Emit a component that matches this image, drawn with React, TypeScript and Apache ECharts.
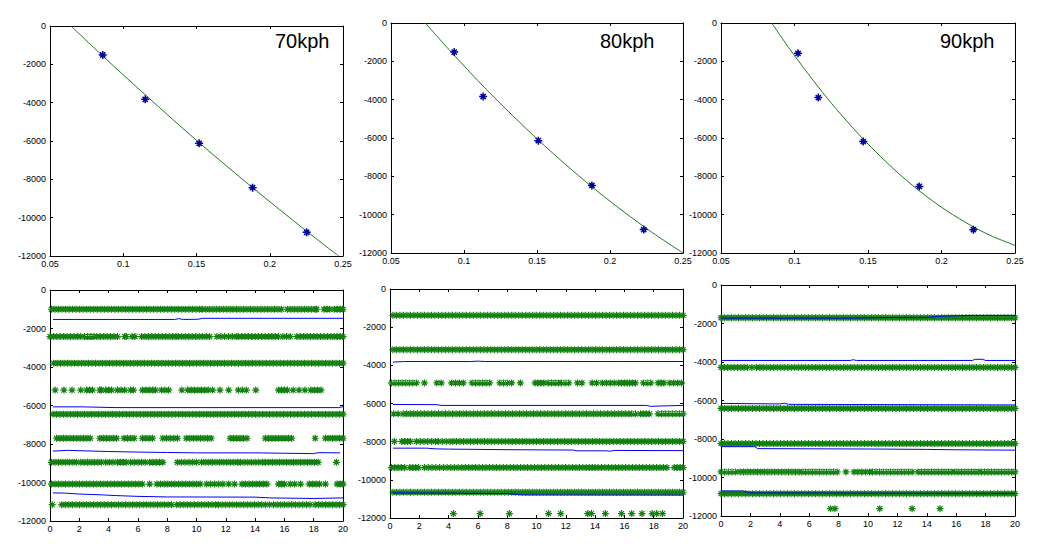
import React, { useEffect, useRef } from 'react';
import * as echarts from 'echarts';

// ---------- Top row: measured points (blue stars) and fitted curves (green) ----------
const titles = ['70kph', '80kph', '90kph'];
const xTicksTop = { min: 0.05, max: 0.25, interval: 0.05 };
const xTicksBottom = { min: 0, max: 20, interval: 2 };
const yTicks = { min: -12000, max: 0, interval: 2000 };

const p1StarX = [0.086, 0.115, 0.1518, 0.1883, 0.2252];
const p1StarY = [-1513, -3826, -6122, -8435, -10765];
const p1FitX = [0.0644, 0.086, 0.1152, 0.1518, 0.1883, 0.2252, 0.247];
const p1FitY = [0, -1565, -3601, -6087, -8435, -10708, -12000];

const p2StarX = [0.0933, 0.1131, 0.1509, 0.1876, 0.2231];
const p2StarY = [-1518, -3837, -6140, -8477, -10780];
const p2FitX = [0.0735, 0.0894, 0.1156, 0.1509, 0.1876, 0.2238, 0.25];
const p2FitY = [0, -1361, -3489, -6105, -8547, -10657, -12000];

const p3StarX = [0.1024, 0.1162, 0.1468, 0.1849, 0.2217];
const p3StarY = [-1580, -3890, -6183, -8527, -10785];
const p3FitX = [0.0845, 0.0942, 0.1024, 0.1162, 0.1282, 0.1468, 0.1668, 0.1849, 0.2031, 0.2217, 0.2348, 0.25];
const p3FitY = [0, -1082, -1950, -3341, -4467, -6061, -7568, -8758, -9774, -10638, -11138, -11601];

// ---------- Bottom row: green marker rows (runs of markers [from, to]) and blue traces ----------
const p4GreenY = [-1000, -2420, -3800, -5200, -6450, -7700, -8950, -10080, -11150];
const p4GreenRuns = [
  [[0.1, 10.2], [10.4, 12.3], [12.5, 15.8], [16.2, 18.1], [18.2, 18.2], [18.7, 19.1], [19.4, 20]],
  [[0, 2.1], [2.35, 3.0], [3.2, 4.6], [5.1, 5.2], [5.6, 5.8], [6.25, 8.6], [8.75, 10.9], [11.4, 12.7], [12.85, 15.6], [15.9, 16.4], [16.85, 19.4], [19.6, 20]],
  [[0.25, 20]],
  [[0.35, 0.35], [0.95, 0.95], [1.5, 1.5], [2.1, 2.1], [2.5, 2.9], [3.4, 3.5], [3.8, 4.2], [4.6, 5.1], [5.5, 5.7], [6.3, 7.0], [7.2, 7.2], [7.6, 8.1], [9.0, 9.0], [9.4, 10.8], [11.1, 11.1], [11.6, 11.6], [12.2, 12.2], [12.85, 13.4], [14.05, 14.05], [15.6, 16.2], [16.6, 16.6], [17.0, 17.0], [17.4, 17.4], [17.8, 18.5]],
  [[0.2, 20]],
  [[0.45, 2.75], [3.4, 4.55], [5.05, 5.75], [6.3, 7.0], [7.7, 8.7], [9.3, 11.0], [12.3, 13.2], [13.45, 13.45], [14.7, 16.5], [18.1, 18.1], [18.8, 20]],
  [[0.1, 1.8], [2.1, 3.5], [3.8, 4.3], [4.6, 5.2], [5.5, 6.5], [6.8, 7.7], [8.7, 10.0], [10.35, 12.8], [13.0, 14.5], [14.7, 18.3], [19.55, 19.55]],
  [[0.1, 6.3], [6.8, 6.8], [7.3, 10.25], [10.7, 11.5], [11.8, 11.8], [12.2, 12.2], [12.6, 12.6], [13.1, 14.8], [15.6, 16.0], [16.4, 16.7], [17.1, 17.1], [17.7, 18.4], [18.8, 18.8], [19.6, 20]],
  [[0.15, 0.15], [0.8, 8.3], [8.65, 11.3], [11.5, 14.45], [14.7, 15.25], [15.5, 17.75], [18.1, 20]],
];
const p4Blue1 = [[0.2, -1530], [8.5, -1530], [8.8, -1490], [9.1, -1530], [10.1, -1520], [10.4, -1470], [20, -1470]];
const p4Blue2 = [[0.2, -6070], [2.2, -6070], [4.5, -6110], [19.7, -6110], [20, -6060]];
const p4Blue3 = [[0.2, -8370], [1.2, -8330], [3, -8370], [4, -8390], [6, -8420], [8, -8440], [10, -8460], [14, -8460], [16, -8480], [18, -8500], [18.3, -8450], [19.8, -8460]];
const p4Blue4 = [[0.2, -10540], [1, -10550], [2, -10600], [3.5, -10640], [4.5, -10680], [6, -10720], [8, -10750], [14, -10760], [15, -10800], [18, -10830], [20, -10800]];

const p5GreenY = [-1380, -3180, -4920, -6540, -7985, -9360, -10650, -11770];
const p5GreenRuns = [
  [[0.2, 20]],
  [[0.2, 20]],
  [[0.1, 1.8], [2.35, 2.35], [3.2, 3.5], [4.2, 5.0], [5.6, 6.8], [7.5, 8.0], [8.3, 8.3], [8.9, 8.9], [9.9, 10.5], [10.8, 11.5], [11.7, 12.2], [12.8, 13.1], [13.8, 14.1], [14.5, 15.3], [15.6, 16.2], [16.35, 16.75], [17.3, 17.8], [18.3, 18.7], [19.1, 19.9]],
  [[0.25, 0.55], [0.9, 16.3], [16.5, 16.75], [17.1, 17.7], [18.3, 20]],
  [[0.3, 0.3], [0.8, 1.4], [1.8, 3.1], [3.3, 4.1], [4.3, 20]],
  [[0.1, 1.0], [1.35, 1.95], [2.35, 3.65], [3.9, 4.65], [4.9, 13.4], [13.6, 14.0], [14.2, 18.9], [19.4, 20]],
  [[0.2, 20]],
  [[4.33, 4.33], [6.15, 6.15], [8.15, 8.15], [10.82, 10.82], [11.65, 11.65], [13.5, 13.5], [13.75, 13.75], [14.7, 14.7], [15.8, 15.8], [16.5, 16.5], [17.2, 17.2], [17.9, 17.9], [18.2, 18.2], [18.6, 18.6]],
];
const p5Blue1 = [[0.2, -3830], [1, -3800], [5.5, -3800], [6, -3780], [6.5, -3800], [20, -3800]];
const p5Blue2 = [[0.2, -6050], [3.2, -6060], [3.5, -6100], [17.5, -6100], [17.8, -6150], [18.5, -6130], [20, -6100]];
const p5Blue3 = [[0.2, -8340], [2.5, -8340], [3.2, -8380], [4, -8390], [8, -8420], [12.5, -8440], [12.7, -8480], [14.8, -8480], [15, -8500], [15.3, -8460], [20, -8470]];
const p5Blue4 = [[0.2, -10680], [8, -10720], [9, -10790], [20, -10800]];

const p6GreenY = [-1700, -4280, -6410, -8240, -9710, -10840, -11620];
const p6GreenRuns = [
  [[0, 20]],
  [[0, 1.8], [2.1, 2.1], [2.4, 20]],
  [[0, 20]],
  [[0, 20]],
  [[0, 1.0], [1.3, 5.3], [5.5, 7.9], [8.5, 8.5], [9.05, 10.1], [10.3, 13.0], [13.4, 15.7], [15.9, 17.5], [17.7, 20]],
  [[0, 20]],
  [[7.45, 7.45], [7.75, 7.75], [10.8, 10.8], [13.0, 13.0], [14.9, 14.9]],
];
const p6Blue1 = [[0, -1720], [9, -1720], [11, -1690], [14, -1680], [15, -1620], [17, -1580], [20, -1580]];
const p6Blue2 = [[0, -3920], [8.8, -3920], [9, -3880], [9.2, -3920], [17.1, -3920], [17.3, -3860], [17.8, -3860], [18, -3920], [20, -3920]];
const p6Blue3 = [[0, -6150], [4, -6180], [4.3, -6140], [4.6, -6200], [20, -6230]];
const p6Blue4 = [[0, -8400], [2.3, -8400], [2.5, -8500], [10, -8520], [14, -8540], [16, -8560], [20, -8580]];
const p6Blue5 = [[0, -10700], [1.5, -10700], [2, -10800], [20, -10830]];

// ---------- styling ----------
const GREEN = '#11800f';
const FIT_GREEN = '#1f7a1f';
const BLUE = '#0000f0';
const STAR_BLUE = '#0000a0';
const FONT = 'Liberation Sans, Arial, sans-serif';

const gridBoxes = [
  { left: 50, top: 26, width: 293, height: 230 },
  { left: 391, top: 23, width: 292, height: 230 },
  { left: 721, top: 23, width: 294, height: 230 },
  { left: 50, top: 290, width: 293, height: 231 },
  { left: 390, top: 289, width: 293, height: 229 },
  { left: 721, top: 285, width: 294, height: 231 },
];

function starPath(cx: number, cy: number, r: number, rd: number) {
  return `M${cx - r},${cy}L${cx + r},${cy}M${cx},${cy - r}L${cx},${cy + r}M${cx - rd},${cy - rd}L${cx + rd},${cy + rd}M${cx - rd},${cy + rd}L${cx + rd},${cy - rd}`;
}

function runRenderer(step: number, r: number, rd: number, color: string, lw: number) {
  return (_params: any, api: any) => {
    const yv = api.value(2);
    const a = api.coord([api.value(0), yv]);
    const b = api.coord([api.value(1), yv]);
    const len = b[0] - a[0];
    let d = '';
    if (len > 0.5) d += `M${a[0]},${a[1]}L${b[0]},${b[1]}`;
    const n = len > 0.5 ? Math.max(2, Math.round(len / step) + 1) : 1;
    for (let i = 0; i < n; i++) {
      const x = n === 1 ? a[0] : a[0] + (len * i) / (n - 1);
      d += starPath(x, a[1], r, rd);
    }
    return {
      type: 'path',
      shape: { pathData: d },
      style: { stroke: color, lineWidth: lw, fill: 'none' },
    };
  };
}

const fmt = (v: number) => String(parseFloat(Number(v).toFixed(4)));

function axesFor(gi: number, xt: { min: number; max: number; interval: number }) {
  const line = { show: true, onZero: false, lineStyle: { color: '#000', width: 1 } };
  const tick = { show: true, inside: true, length: 3, lineStyle: { color: '#000', width: 1 } };
  const label = { show: true, color: '#000', fontSize: 9, fontFamily: FONT, formatter: fmt };
  const xs = [
    { type: 'value', gridIndex: gi, position: 'bottom', ...xt, axisLine: line, axisTick: tick, axisLabel: { ...label, margin: 3 }, splitLine: { show: false } },
    { type: 'value', gridIndex: gi, position: 'top', ...xt, axisLine: line, axisTick: tick, axisLabel: { show: false }, splitLine: { show: false } },
  ];
  const ys = [
    { type: 'value', gridIndex: gi, position: 'left', ...yTicks, axisLine: line, axisTick: tick, axisLabel: { ...label, margin: 4 }, splitLine: { show: false } },
    { type: 'value', gridIndex: gi, position: 'right', ...yTicks, axisLine: line, axisTick: tick, axisLabel: { show: false }, splitLine: { show: false } },
  ];
  return { xs, ys };
}

function starSeries(gi: number, xs: number[], ys: number[]) {
  return {
    type: 'custom',
    xAxisIndex: gi * 2,
    yAxisIndex: gi * 2,
    z: 4,
    encode: { x: [0, 1], y: 2 },
    renderItem: runRenderer(3, 4, 2.6, STAR_BLUE, 1.5),
    data: xs.map((x, i) => [x, x, ys[i]]),
  };
}

function fitSeries(gi: number, xs: number[], ys: number[]) {
  return {
    type: 'line',
    xAxisIndex: gi * 2,
    yAxisIndex: gi * 2,
    z: 3,
    smooth: 0.3,
    showSymbol: false,
    lineStyle: { color: FIT_GREEN, width: 1 },
    data: xs.map((x, i) => [x, ys[i]]),
  };
}

function greenSeries(gi: number, levels: number[], runs: number[][][]) {
  const data: number[][] = [];
  levels.forEach((y, li) => runs[li].forEach((r) => data.push([r[0], r[1], y])));
  return {
    type: 'custom',
    xAxisIndex: gi * 2,
    yAxisIndex: gi * 2,
    z: 2,
    encode: { x: [0, 1], y: 2 },
    renderItem: runRenderer(3.5, 3.5, 2.5, GREEN, 1.2),
    data,
  };
}

function blueSeries(gi: number, pts: number[][]) {
  return {
    type: 'line',
    xAxisIndex: gi * 2,
    yAxisIndex: gi * 2,
    z: 5,
    showSymbol: false,
    lineStyle: { color: BLUE, width: 1 },
    data: pts,
  };
}

export default function App() {
  const ref = useRef<HTMLDivElement>(null);
  useEffect(() => {
    document.body.style.margin = '0';
    if (!ref.current) return;
    const chart = echarts.init(ref.current, null, { renderer: 'svg' });
    const xAxis: any[] = [];
    const yAxis: any[] = [];
    for (let gi = 0; gi < 6; gi++) {
      const a = axesFor(gi, gi < 3 ? xTicksTop : xTicksBottom);
      xAxis.push(...a.xs);
      yAxis.push(...a.ys);
    }
    const series: any[] = [
      fitSeries(0, p1FitX, p1FitY),
      starSeries(0, p1StarX, p1StarY),
      fitSeries(1, p2FitX, p2FitY),
      starSeries(1, p2StarX, p2StarY),
      fitSeries(2, p3FitX, p3FitY),
      starSeries(2, p3StarX, p3StarY),
      greenSeries(3, p4GreenY, p4GreenRuns),
      ...[p4Blue1, p4Blue2, p4Blue3, p4Blue4].map((p) => blueSeries(3, p)),
      greenSeries(4, p5GreenY, p5GreenRuns),
      ...[p5Blue1, p5Blue2, p5Blue3, p5Blue4].map((p) => blueSeries(4, p)),
      greenSeries(5, p6GreenY, p6GreenRuns),
      ...[p6Blue1, p6Blue2, p6Blue3, p6Blue4, p6Blue5].map((p) => blueSeries(5, p)),
    ];
    const titlePos = [
      [275, 31],
      [600, 31],
      [940, 31],
    ];
    chart.setOption({
      animation: false,
      backgroundColor: '#fff',
      grid: gridBoxes,
      xAxis,
      yAxis,
      series,
      graphic: titles.map((t, i) => ({
        type: 'text',
        x: titlePos[i][0],
        y: titlePos[i][1],
        z: 10,
        style: { text: t, fontSize: 20, fontFamily: FONT, fill: '#000', verticalAlign: 'top' },
      })),
    });
    return () => chart.dispose();
  }, []);
  return <div ref={ref} style={{ width: 1053, height: 554 }} />;
}
